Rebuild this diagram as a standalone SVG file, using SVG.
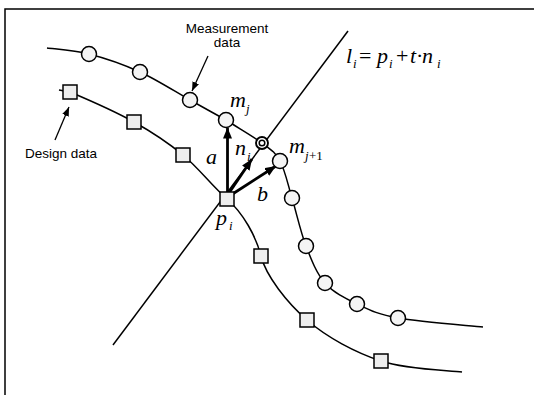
<svg xmlns="http://www.w3.org/2000/svg" width="534" height="395" viewBox="0 0 534 395">
<style>
.ln{fill:none;stroke:#000;stroke-width:1.5}
.thick{fill:none;stroke:#000;stroke-width:2.8}
.thin{fill:none;stroke:#000;stroke-width:1.3}
.cir{fill:#f4f4f4;stroke:#000;stroke-width:1.5}
.sq{fill:#eeeeee;stroke:#000;stroke-width:1.5}
.lbl{font-family:"Liberation Sans",Arial,sans-serif;font-size:13.5px;fill:#000}
.m{font-family:"Liberation Serif","Times New Roman",serif;font-style:italic;font-size:22px;fill:#000}
.s{font-size:13px}
.up{font-style:normal}
</style>
<defs>
<marker id="ah" markerUnits="userSpaceOnUse" markerWidth="11" markerHeight="9" refX="11" refY="4.5" orient="auto">
<path d="M0,0 L11,4.5 L0,9 z" fill="#000"/>
</marker>
<marker id="ah2" markerUnits="userSpaceOnUse" markerWidth="9" markerHeight="7" refX="9" refY="3.5" orient="auto">
<path d="M0,0 L9,3.5 L0,7 z" fill="#000"/>
</marker>
</defs>
<rect width="534" height="395" fill="#fff"/>
<g id="frame">
<path class="ln" d="M5,395 L5,9 L534,9"/>
</g>
<g id="connectors">
<path id="measurement-curve" class="ln" d="M47,48 C54,49 73.5,50 89,54 C104.5,58 123.2,64.3 140,72 C156.8,79.7 175.8,92 190,100 C204.2,108 213,112.8 226,120 C237,127.2 252.8,136.2 262,143 C271.2,149.8 275,151.8 280,161 C285,170.2 287.7,183.8 292,198 C296.3,212.2 300.5,231.8 306,246 C311.5,260.2 316.5,273.3 325,283 C333.5,292.7 344.8,298.2 357,304 C369.2,309.8 377,314.2 398,318 C419,321.8 468.8,325.5 483,327"/>
<path id="design-curve" class="ln" d="M59,90 L70,92 C82.3,97.2 115.2,111.5 134,122 C152.8,132.5 167.5,142.2 183,155 C198.5,167.8 211,185 227,199 C243,213 256,236 261,256 C266,276 287,302.5 307,320 C327,337.5 355.2,352.3 381,361 C406.8,369.7 448.5,370.2 462,372"/>
<line id="normal-line" class="ln" x1="348" y1="31" x2="113" y2="345"/>
<line id="arrow-a" class="thick" x1="227.5" y1="193" x2="227.5" y2="127.5" marker-end="url(#ah)"/>
<line id="arrow-n" class="thick" x1="229" y1="193" x2="252" y2="159" marker-end="url(#ah)"/>
<line id="arrow-b" class="thick" x1="231" y1="195" x2="276" y2="166" marker-end="url(#ah)"/>
<line id="arrow-measurement" class="thin" x1="208" y1="56" x2="192" y2="91" marker-end="url(#ah2)"/>
<line id="arrow-design" class="thin" x1="55" y1="140" x2="69" y2="107" marker-end="url(#ah2)"/>
</g>
<g id="measurement-points">
<circle id="m1" class="cir" cx="89" cy="54" r="7.5"/>
<circle id="m2" class="cir" cx="140" cy="72" r="7.5"/>
<circle id="m3" class="cir" cx="190" cy="100" r="7.5"/>
<circle id="mj" class="cir" cx="226" cy="120" r="7.5"/>
<circle id="mj1" class="cir" cx="280" cy="161" r="7.5"/>
<circle id="m6" class="cir" cx="292" cy="198" r="7.5"/>
<circle id="m7" class="cir" cx="306" cy="246" r="7.5"/>
<circle id="m8" class="cir" cx="325" cy="283" r="7.5"/>
<circle id="m9" class="cir" cx="357" cy="304" r="7.5"/>
<circle id="m10" class="cir" cx="398" cy="318" r="7.5"/>
</g>
<g id="intersection">
<circle cx="262" cy="143" r="6" fill="#fff" stroke="#000" stroke-width="1.9"/>
<circle cx="262" cy="143" r="2.8" fill="#fff" stroke="#000" stroke-width="1.5"/>
</g>
<g id="design-points">
<rect id="d1" class="sq" x="63" y="85" width="14" height="14"/>
<rect id="d2" class="sq" x="127" y="115" width="14" height="14"/>
<rect id="d3" class="sq" x="176" y="148" width="14" height="14"/>
<rect id="pi" class="sq" x="220" y="192" width="14" height="14"/>
<rect id="d5" class="sq" x="254" y="249" width="14" height="14"/>
<rect id="d6" class="sq" x="300" y="313" width="14" height="14"/>
<rect id="d7" class="sq" x="374" y="354" width="14" height="14"/>
</g>
<g id="labels">
<text class="lbl" x="227" y="33" text-anchor="middle">Measurement</text>
<text class="lbl" x="227" y="47" text-anchor="middle">data</text>
<text class="lbl" x="25" y="158" font-size="14">Design data</text>
<text class="m" x="230" y="107">m<tspan class="s" x="246" y="113">j</tspan></text>
<text class="m" x="289" y="153">m<tspan class="s" x="305" y="160">j</tspan><tspan class="s up" x="309" y="160">+1</tspan></text>
<text class="m" x="235" y="155">n<tspan class="s" x="247" y="161">i</tspan></text>
<text class="m" x="206" y="164">a</text>
<text class="m" x="257" y="201">b</text>
<text class="m" x="216" y="225">p<tspan class="s" x="229" y="230">i</tspan></text>
<text class="m" font-size="24" x="346" y="63">l<tspan class="s" x="353" y="68">i</tspan><tspan class="up" x="359" y="63">=</tspan><tspan x="377" y="63">p</tspan><tspan class="s" x="389" y="68">i</tspan><tspan class="up" x="396" y="63">+</tspan><tspan x="410" y="63">t</tspan><tspan class="up" x="416" y="63">·</tspan><tspan x="422" y="63">n</tspan><tspan class="s" x="437" y="68">i</tspan></text>
</g>
</svg>
